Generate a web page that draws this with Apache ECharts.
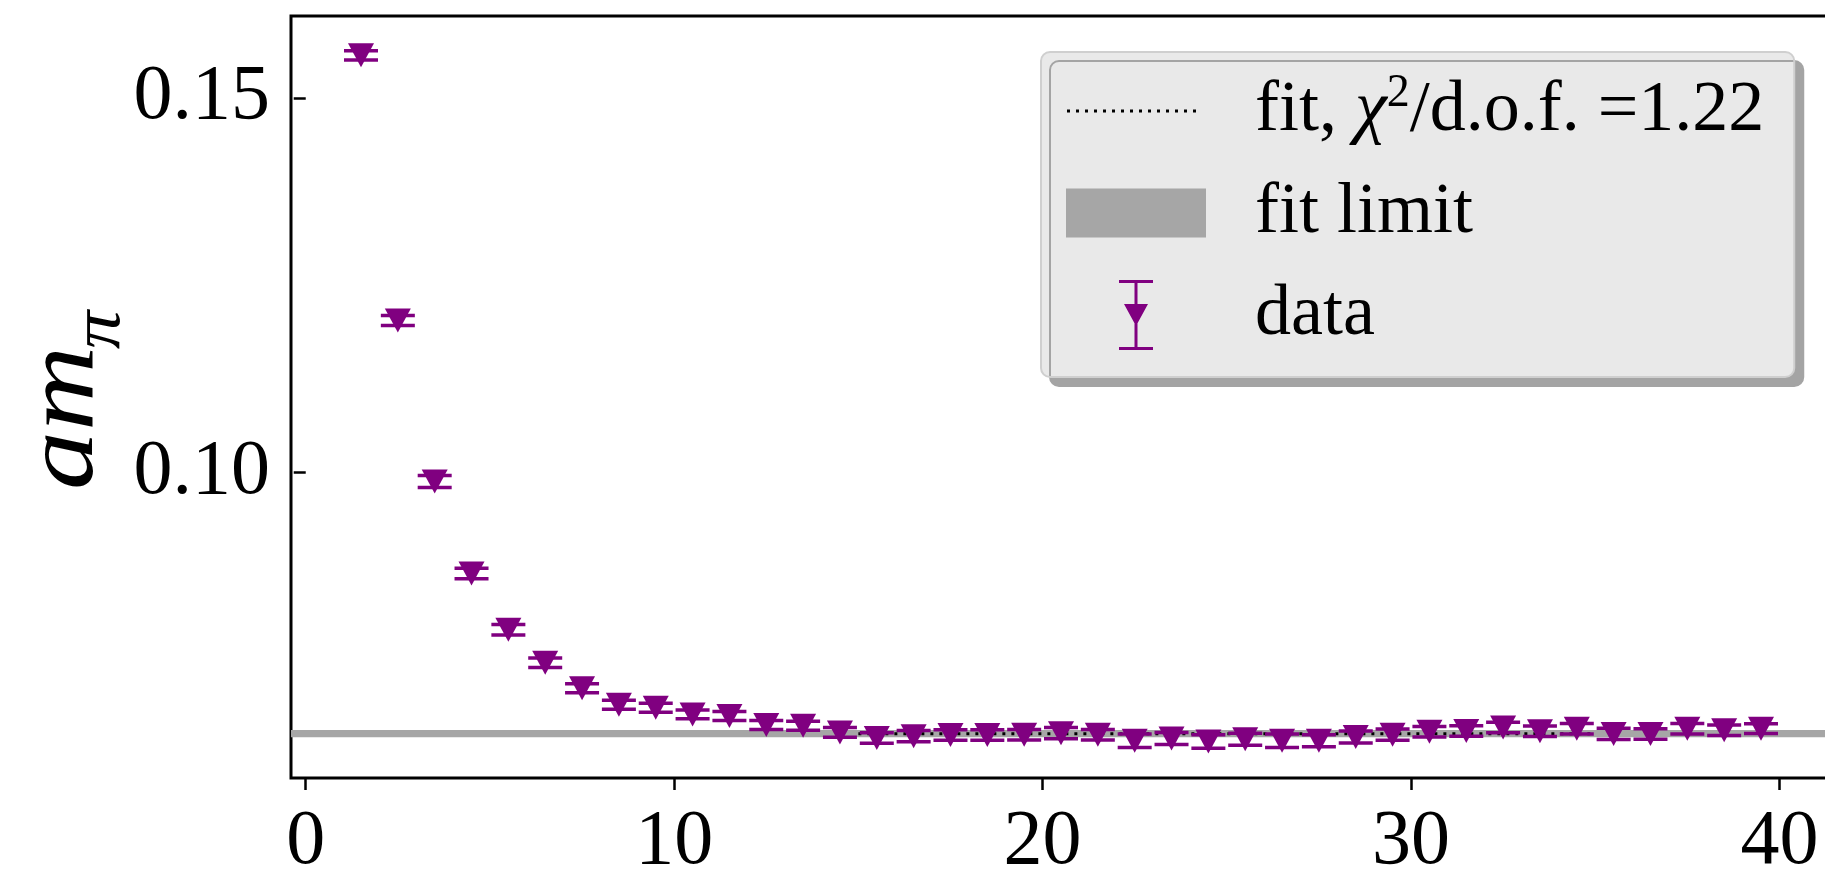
<!DOCTYPE html>
<html>
<head>
<meta charset="utf-8">
<script src="https://cdn.jsdelivr.net/npm/echarts@6/dist/echarts.min.js"></script>
<style>
  html, body { margin: 0; padding: 0; background: #fff; }
  #chart { width: 1825px; height: 873px; }
</style>
</head>
<body>
<div id="chart"></div>
<script>
// Euclidean time slices (midpoints) of the effective pion mass
const timeSlices = [
  1.5, 2.5, 3.5, 4.5, 5.5, 6.5, 7.5, 8.5, 9.5, 10.5,
  11.5, 12.5, 13.5, 14.5, 15.5, 16.5, 17.5, 18.5, 19.5, 20.5,
  21.5, 22.5, 23.5, 24.5, 25.5, 26.5, 27.5, 28.5, 29.5, 30.5,
  31.5, 32.5, 33.5, 34.5, 35.5, 36.5, 37.5, 38.5, 39.5
];
// effective mass a*m_pi per slice
const effMass = [
  0.1557, 0.1203, 0.0988, 0.0865, 0.0790, 0.0746, 0.0712, 0.0690, 0.0686, 0.0677,
  0.0675, 0.0663, 0.0662, 0.0653, 0.06455, 0.0648, 0.06495, 0.06495, 0.0650, 0.0652,
  0.0650, 0.0642, 0.0645, 0.0641, 0.0644, 0.0642, 0.0642, 0.0647, 0.0650, 0.0654,
  0.0655, 0.06595, 0.06546, 0.0658, 0.0651, 0.0651, 0.0658, 0.0656, 0.0658
];
// statistical errors
const effMassErr = [
  0.00062, 0.00067, 0.0008, 0.0007, 0.0007, 0.00062, 0.0006, 0.0006, 0.0006, 0.00058,
  0.0006, 0.0006, 0.0006, 0.00065, 0.0007, 0.00075, 0.0007, 0.0007, 0.0007, 0.00075,
  0.0007, 0.0009, 0.0008, 0.0009, 0.0008, 0.0009, 0.0008, 0.0008, 0.00075, 0.0007,
  0.0007, 0.0007, 0.0007, 0.0007, 0.00075, 0.0007, 0.0007, 0.0007, 0.00065
];
// plateau fit
const fitRange = [15, 35];
const fitLimit = 0.06513;
const fitLimitErr = 0.00049;
const chi2PerDof = 1.22;
// axis ticks
const xTicks = [0, 10, 20, 30, 40];
const yTicks = [0.10, 0.15];

const FONT = '"Liberation Serif", "DejaVu Serif", serif';
const PURPLE = '#800080';
const BAND = '#a6a6a6';

// legend glyphs (icon box 140 x 70)
let dottedIcon = 'path://M0,0M140,70';
for (let k = 0; k < 15; k++) {
  const x = 1 + 9 * k;
  dottedIcon += 'M' + x + ',33.5h3v3h-3z';
}
const bandIcon = 'path://M0,0M140,70M0,10.5h140v49h-140z';
const dataIcon = 'path://M0,0M140,70' +
  'M53,0h34v3h-34z' +
  'M53,67h34v3h-34z' +
  'M68.5,3h3v64h-3z' +
  'M58,24h24l-12,22z';

const points = timeSlices.map((t, i) => [t, effMass[i]]);
const bars = timeSlices.map((t, i) => [t, effMass[i] - effMassErr[i], effMass[i] + effMassErr[i]]);

const chart = echarts.init(document.getElementById('chart'), null, { renderer: 'canvas' });

chart.setOption({
  animation: false,
  backgroundColor: '#fff',
  grid: {
    left: 291, top: 16, width: 1540, height: 762,
    outerBoundsMode: 'none',
    containLabel: false,
    show: true, borderColor: '#000', borderWidth: 3, backgroundColor: 'transparent'
  },
  xAxis: {
    type: 'value',
    min: -0.4, max: 41.4,
    axisLine: { show: false },
    splitLine: { show: false },
    axisTick: { show: true, inside: false, length: 12, customValues: xTicks,
      lineStyle: { color: '#000', width: 2.5 } },
    axisLabel: { customValues: xTicks, margin: 26, color: '#000',
      fontFamily: FONT, fontSize: 78, formatter: v => String(v) }
  },
  yAxis: {
    type: 'value',
    min: 0.059212, max: 0.160948,
    axisLine: { show: false },
    splitLine: { show: false },
    axisTick: { show: true, inside: false, length: 12, customValues: yTicks,
      lineStyle: { color: '#000', width: 2.5 } },
    axisLabel: { customValues: yTicks, margin: 21, color: '#000',
      fontFamily: FONT, fontSize: 78, formatter: v => v.toFixed(2) }
  },
  legend: {
    orient: 'vertical',
    left: 1041, top: 52,
    padding: [19, 30, 22, 25],
    itemGap: 22, itemWidth: 140, itemHeight: 70,
    selectedMode: false,
    backgroundColor: '#e9e9e9',
    borderColor: '#cfcfcf', borderWidth: 2, borderRadius: 9,
    shadowColor: '#a4a4a4', shadowBlur: 0, shadowOffsetX: 9, shadowOffsetY: 9,
    textStyle: {
      fontFamily: FONT, fontSize: 72, color: '#000', lineHeight: 80,
      padding: [0, 0, 0, 44],
      rich: {
        chi: { fontFamily: FONT, fontSize: 72, fontStyle: 'italic', color: '#000', lineHeight: 80, verticalAlign: 'middle' },
        sup: { fontFamily: FONT, fontSize: 46, color: '#000', lineHeight: 44, verticalAlign: 'top' }
      }
    },
    formatter: name => name === 'fit'
      ? 'fit, {chi|χ}{sup|2}/d.o.f. =' + chi2PerDof.toFixed(2)
      : name,
    data: [
      { name: 'fit', icon: dottedIcon },
      { name: 'fit limit', icon: bandIcon },
      { name: 'data', icon: dataIcon }
    ]
  },
  graphic: [
    { type: 'text', x: 66, y: 418, rotation: Math.PI / 2, scaleX: 1.18, silent: true,
      style: { text: 'am', font: 'italic 100px ' + FONT, fill: '#000',
        align: 'center', verticalAlign: 'middle', textAlign: 'center', textVerticalAlign: 'middle' } },
    { type: 'text', x: 101, y: 330, rotation: Math.PI / 2, scaleX: 1.1, silent: true,
      style: { text: 'π', font: 'italic 70px ' + FONT, fill: '#000',
        align: 'center', verticalAlign: 'middle', textAlign: 'center', textVerticalAlign: 'middle' } }
  ],
  series: [
    {
      name: 'fit limit',
      type: 'custom',
      z: 1,
      silent: true,
      itemStyle: { color: BAND },
      encode: { x: 0, y: [1, 2] },
      data: [[fitRange[0], fitLimit - fitLimitErr, fitLimit + fitLimitErr]],
      renderItem: (params, api) => {
        const cs = params.coordSys;
        const yHi = api.coord([api.value(0), api.value(2)])[1];
        const yLo = api.coord([api.value(0), api.value(1)])[1];
        return {
          type: 'rect',
          shape: { x: cs.x, y: yHi, width: cs.width, height: yLo - yHi },
          style: { fill: BAND }
        };
      }
    },
    {
      name: 'fit',
      type: 'line',
      z: 2,
      silent: true,
      symbol: 'none',
      itemStyle: { color: '#000' },
      lineStyle: { color: '#000', width: 3, type: [3, 6], cap: 'butt' },
      data: [[fitRange[0], fitLimit], [fitRange[1], fitLimit]]
    },
    {
      name: 'data',
      type: 'scatter',
      z: 4,
      silent: true,
      symbol: 'triangle',
      symbolRotate: 180,
      symbolSize: [26, 24],
      itemStyle: { color: PURPLE, opacity: 1 },
      data: points
    },
    {
      name: 'data',
      type: 'custom',
      z: 3,
      silent: true,
      itemStyle: { color: PURPLE },
      encode: { x: 0, y: [1, 2] },
      data: bars,
      renderItem: (params, api) => {
        const x = api.value(0);
        const lo = api.coord([x, api.value(1)]);
        const hi = api.coord([x, api.value(2)]);
        const hw = 17;
        const st = { stroke: PURPLE, lineWidth: 3.5 };
        return {
          type: 'group',
          children: [
            { type: 'line', shape: { x1: hi[0], y1: hi[1], x2: lo[0], y2: lo[1] }, style: st },
            { type: 'line', shape: { x1: hi[0] - hw, y1: hi[1], x2: hi[0] + hw, y2: hi[1] }, style: st },
            { type: 'line', shape: { x1: lo[0] - hw, y1: lo[1], x2: lo[0] + hw, y2: lo[1] }, style: st }
          ]
        };
      }
    }
  ]
});
</script>
</body>
</html>
